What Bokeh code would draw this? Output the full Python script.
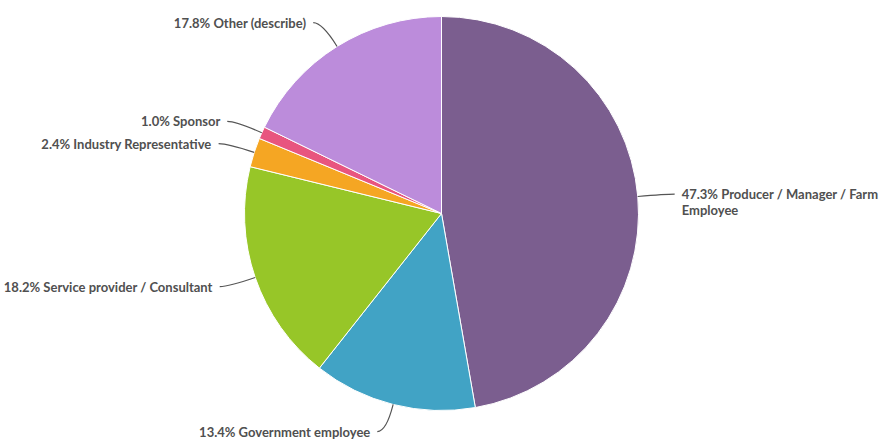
import math
from bokeh.plotting import figure
from bokeh.models import Range1d, ColumnDataSource
from bokeh.core.properties import value
from bokeh.embed import file_html
from bokeh.resources import INLINE

categories = ["Producer / Manager / Farm Employee", "Government employee",
              "Service provider / Consultant", "Industry Representative",
              "Sponsor", "Other (describe)"]
shares = [47.3, 13.4, 18.2, 2.4, 1.0, 17.8]
colors = ["#7B5E8F", "#41A3C5", "#97C628", "#F5A623", "#E8557F", "#BC8CDB"]

W, H = 879, 439
CX, CY, R = 441, H - 213, 197
EXT, HOR, GAP = 28, 9, 7

p = figure(width=W, height=H, x_range=Range1d(0, W), y_range=Range1d(0, H),
           output_backend="svg", toolbar_location=None, min_border=0)
p.axis.visible = False
p.grid.visible = False
p.outline_line_color = None
p.background_fill_color = "white"
p.border_fill_color = "white"

total = sum(shares)
starts, ends, mids = [], [], []
cum = 0.0
for s in shares:
    a0 = math.pi / 2 - 2 * math.pi * cum / total
    cum += s
    a1 = math.pi / 2 - 2 * math.pi * cum / total
    starts.append(a0)
    ends.append(a1)
    mids.append((a0 + a1) / 2)

src = ColumnDataSource(dict(start=starts, end=ends, color=colors))
p.wedge(x=CX, y=CY, radius=R, start_angle="start", end_angle="end",
        direction="clock", fill_color="color", line_color="white",
        line_width=1, source=src)

x0s, y0s, x1s, y1s, cxs, cys = [], [], [], [], [], []
tx, ty, tt, ta = [], [], [], []
for s, c, m in zip(shares, categories, mids):
    ex, ey = CX + R * math.cos(m), CY + R * math.sin(m)
    kx, ky = CX + (R + EXT) * math.cos(m), CY + (R + EXT) * math.sin(m)
    side = 1 if math.cos(m) >= 0 else -1
    fx = kx + side * HOR
    x0s.append(ex); y0s.append(ey); cxs.append(kx); cys.append(ky)
    x1s.append(fx); y1s.append(ky)
    label = f"{s:.1f}% {c}"
    if c.startswith("Producer"):
        lines = [f"{s:.1f}% Producer / Manager / Farm", "Employee"]
    else:
        lines = [label]
    for i, ln in enumerate(lines):
        tx.append(fx + side * GAP)
        ty.append(ky - i * 16)
        tt.append(ln)
        ta.append("left" if side > 0 else "right")

p.quadratic(x0=x0s, y0=y0s, x1=x1s, y1=y1s, cx=cxs, cy=cys,
            line_color="#555555", line_width=1.2)
p.text(x=tx, y=ty, text=tt, text_align=ta, text_baseline="middle",
       text_font=value("Lato"), text_font_size="13px", text_font_style="bold",
       text_color="#505050")

open("out.html", "w").write(file_html(p, INLINE))
